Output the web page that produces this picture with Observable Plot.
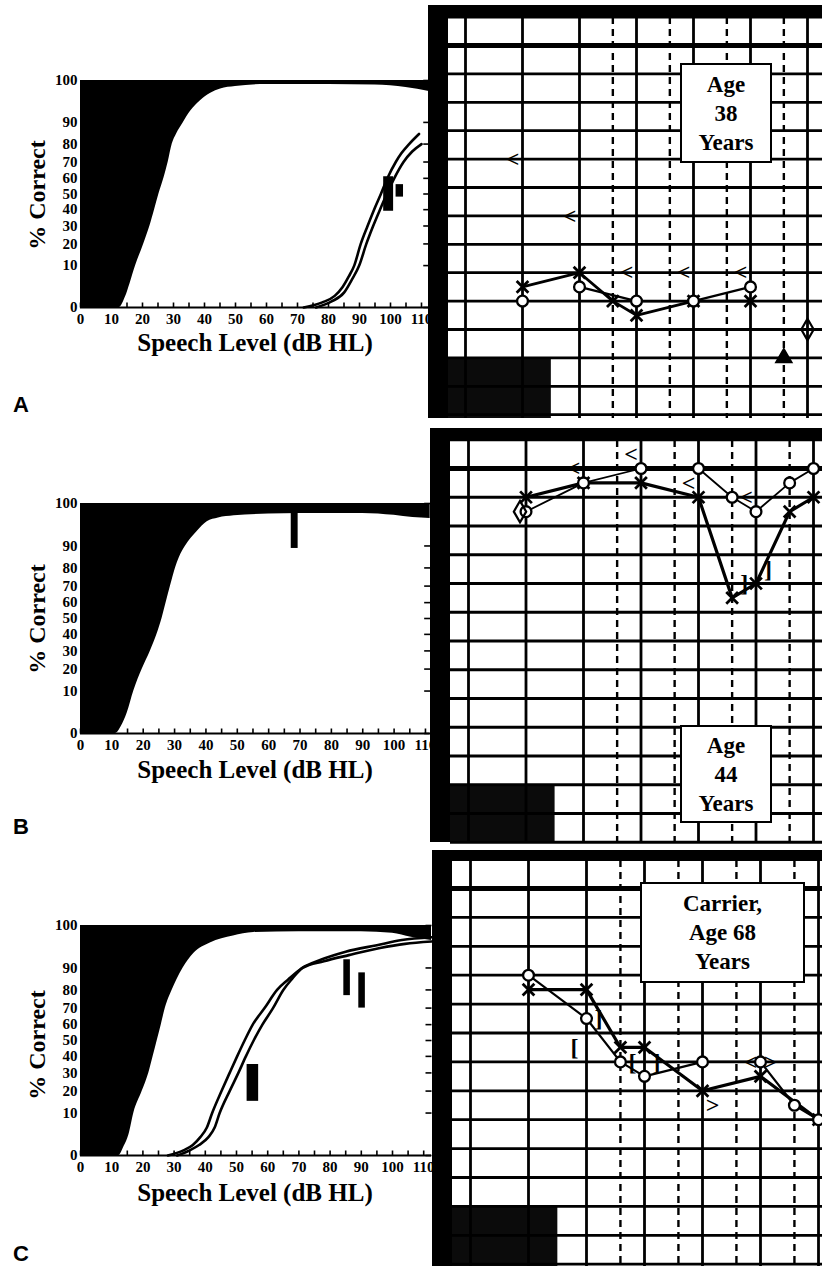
<!DOCTYPE html>
<html><head><meta charset="utf-8">
<script src="https://cdn.jsdelivr.net/npm/d3@7"></script>
<script src="https://cdn.jsdelivr.net/npm/@observablehq/plot@0.6"></script>
<style>
body{margin:0;background:#fff;}
#fig{position:relative;width:822px;height:1268px;overflow:hidden;background:#fff;font-family:"Liberation Serif","Times New Roman",serif;color:#000;}
.ctr{transform:translate(-50%,-50%);white-space:nowrap;font-weight:bold;}
.ylab{font-size:24px;transform:translate(-50%,-50%) rotate(-90deg);white-space:nowrap;font-weight:bold;}
.xlab{font-size:25px;}
.letter{font-family:"Liberation Sans",Arial,sans-serif;font-weight:bold;font-size:22px;line-height:1;}
.agbox{box-sizing:border-box;border-left:20px solid #000;border-top:12px solid #000;background:#fff;}
.agebox{box-sizing:border-box;border:2px solid #000;background:#fff;display:flex;flex-direction:column;justify-content:center;align-items:center;font-weight:bold;font-size:23px;line-height:29px;}
</style></head><body><div id="fig"></div>
<script>
// ================= DATA =================
// Performance-intensity (left) panels
const levelTicks = [0, 10, 20, 30, 40, 50, 60, 70, 80, 90, 100, 110];
const levelMinorTicks = [0, 5, 10, 15, 20, 25, 30, 35, 40, 45, 50, 55, 60, 65, 70, 75, 80, 85, 90, 95, 100, 105, 110];
const pctTicks = [0, 10, 20, 30, 40, 50, 60, 70, 80, 90, 100];

// lower edge of the normal-hearing range [dB HL, % correct]
const normalA = [[0,0],[12.5,0],[14.5,1],[16,4],[17.8,10],[20.4,20],[22.4,30],[23.9,40],[25.3,50],[26.9,60],[28.3,70],[29.6,80],[31,85],[33.2,90],[35.5,94],[38.7,97],[42,98.6],[45.2,99.3],[50,99.6],[60,99.8],[80,99.8],[95,99.75],[105,99.5],[112.5,98.9]];
const normalB = [[0,0],[11.2,0],[13,0.5],[14.9,3],[17,10],[19.7,20],[22.3,30],[24.4,40],[26,50],[27.3,60],[28.7,70],[30.3,80],[31.5,85],[33.5,90],[37.2,95],[40.4,97.5],[44,98.3],[49,98.7],[60,99],[70,99.1],[80,99.1],[90,99.1],[100,98.8],[106,98.4],[111.5,98.2]];
const normalC = [[0,0],[12.3,0],[14,0.8],[15.5,3],[17.1,10],[19.8,20],[21.9,30],[23.3,40],[24.6,50],[25.9,60],[27.2,70],[29.4,80],[30.9,85],[32.9,90],[36.3,95],[41.6,97.7],[49,99],[55.5,99.5],[70,99.6],[90,99.6],[100,99.4],[106,98.8],[112.5,98.2]];

// patient PI functions (two ears)
const curveA1 = [[72,0],[78,0.3],[82,1.2],[84.5,3],[86.5,6],[88.3,10],[90.4,20],[92.6,30],[94.7,40],[96.9,50],[99,60],[101.7,70],[103.5,75],[106,80],[109.2,85]];
const curveA2 = [[76,0],[81,0.4],[85,1.8],[87.5,5],[89.9,10],[92.2,20],[94.4,30],[96.6,40],[98.8,50],[101.2,60],[104.2,70],[107,76],[110,80]];
const curveC1 = [[28,0],[33,0.3],[36,1],[38.4,2.5],[40.5,5],[42.2,10],[45.2,20],[47.8,30],[50.2,40],[52.6,50],[55.2,60],[59,70],[63,80],[66.5,85],[71,90],[77,93],[85,95.5],[95,97.2],[103,98.3],[112.5,98.8]];
const curveC2 = [[31,0],[35,0.3],[38,1],[41,2.5],[43,5],[44.6,10],[47.8,20],[50.6,30],[53,40],[55.5,50],[58.3,60],[61.7,70],[65,80],[67.6,85],[71.2,90],[78,92.5],[86,94.5],[96,96.5],[104,97.5],[112.5,98]];

// measured scores (level range in dB HL, score range in %)
const scoresA = [{lev1:97.8, lev2:101, lo:39, hi:61}, {lev1:101.8, lev2:104.2, lo:48, hi:56}];
const scoresB = [{lev1:67.2, lev2:69.4, lo:89, hi:100}];
const scoresC = [{lev1:53.4, lev2:57.1, lo:15, hi:35}, {lev1:84.4, lev2:86.5, lo:77, hi:93}, {lev1:89.2, lev2:91.3, lo:70, hi:88}];

// Audiogram (right) panels
const freqOctaves = [125, 250, 500, 1000, 2000, 4000, 8000];
const freqHalf = [750, 1500, 3000, 6000];
const dbGrid = [-10, 0, 10, 20, 30, 40, 50, 60, 70, 80, 90, 100, 110, 120, 130];
const shadedZone = [{maxFreq: 355, minDb: 110}];

const aX = [{f:250,db:85},{f:500,db:80},{f:750,db:90},{f:1000,db:95},{f:2000,db:90},{f:4000,db:90}];
const aO = [{f:250,db:90},{f:500,db:85},{f:1000,db:90},{f:2000,db:90},{f:4000,db:85}];
const aBoneRight = [{f:250,db:40},{f:500,db:60},{f:1000,db:80},{f:2000,db:80},{f:4000,db:80}];
const aNoResponse = [{f:6000,db:110}];
const aDiamond = [{f:8000,db:100}];

const bX = [{f:250,db:10},{f:500,db:5},{f:1000,db:5},{f:2000,db:10},{f:3000,db:45},{f:4000,db:40},{f:6000,db:15},{f:8000,db:10}];
const bO = [{f:250,db:15},{f:500,db:5},{f:1000,db:0},{f:2000,db:0},{f:3000,db:10},{f:4000,db:15},{f:6000,db:5},{f:8000,db:0}];
const bBoneRight = [{f:500,db:0},{f:1000,db:-5},{f:2000,db:5},{f:4000,db:10}];
const bMaskedLeft = [{f:3000,db:40},{f:4000,db:35}];
const bDiamond = [{f:250,db:15}];

const cX = [{f:250,db:35},{f:500,db:35},{f:750,db:55},{f:1000,db:55},{f:2000,db:70},{f:4000,db:65},{f:8000,db:80}];
const cO = [{f:250,db:30},{f:500,db:45},{f:750,db:60},{f:1000,db:65},{f:2000,db:60},{f:4000,db:60},{f:6000,db:75},{f:8000,db:80}];
const cMaskedRight = [{f:500,db:55},{f:1000,db:60}];
const cMaskedLeft = [{f:500,db:45},{f:1000,db:60}];
const cBoneRight = [{f:4000,db:60}];
const cBoneLeft = [{f:2000,db:75},{f:4000,db:60}];

const ageLabels = {A: ["Age","38","Years"], B: ["Age","44","Years"], C: ["Carrier,","Age 68","Years"]};
const xTitle = "Speech Level (dB HL)";
const yTitle = "% Correct";

// ================= HELPERS =================
const fig = document.getElementById("fig");
// rationalized arcsine transform (50-item list) used by the % Correct axis
const NITEMS = 50;
const rau = p => { const x = p / 100 * NITEMS; return Math.asin(Math.sqrt(x / (NITEMS + 1))) + Math.asin(Math.sqrt(Math.min(1, (x + 1) / (NITEMS + 1)))); };
const tickUp = {draw(ctx) { ctx.moveTo(0, 0); ctx.lineTo(0, -5); }};
const tickLeft = {draw(ctx) { ctx.moveTo(0, 0); ctx.lineTo(-6, 0); }};

function place(el, left, top) { el.style.position = "absolute"; el.style.left = left + "px"; el.style.top = top + "px"; fig.appendChild(el); return el; }
function div(cls, html, left, top) { const d = document.createElement("div"); d.className = cls; d.innerHTML = html; return place(d, left, top); }

function speechPanel(cfg) {
  const W = 432, mt = 8, mb = 22;
  const mr = W - 80 - cfg.xMax * cfg.ppd;
  const lbl = {fontFamily: "Liberation Serif", fontWeight: "bold", fontSize: 15, fill: "black"};
  const chart = Plot.plot({
    width: W, height: mt + cfg.plotH + mb,
    marginLeft: 80, marginRight: mr, marginTop: mt, marginBottom: mb,
    style: {background: "transparent", overflow: "visible"},
    x: {domain: [0, cfg.xMax], axis: null},
    y: {domain: [rau(0), rau(100)], axis: null},
    marks: [
      Plot.areaY(cfg.normal, {x: d => d[0], y1: d => rau(d[1]), y2: () => rau(100), fill: "black", curve: "monotone-x"}),
      ...cfg.curves.map(c => Plot.line(c, {x: d => d[0], y: d => rau(d[1]), stroke: "black", strokeWidth: 2.6, curve: "monotone-x"})),
      Plot.rect(cfg.scores, {x1: "lev1", x2: "lev2", y1: d => rau(d.lo), y2: d => rau(d.hi), fill: "black"}),
      Plot.ruleY([rau(0)], {stroke: "black", strokeWidth: 2.2}),
      Plot.dot(levelMinorTicks, {x: d => d, y: () => rau(0), symbol: tickUp, fill: "none", stroke: "black", strokeWidth: 1.6}),
      Plot.dot(pctTicks, {x: () => cfg.xMax, y: d => rau(d), symbol: tickLeft, fill: "none", stroke: "black", strokeWidth: 1.6}),
      // tick labels
      Plot.text(levelTicks, {x: d => d, y: () => rau(0), text: d => String(d), dy: 12, ...lbl}),
      Plot.text(pctTicks, {x: () => 0, y: d => rau(d), text: d => String(d), dx: -3, textAnchor: "end", ...lbl})
    ]
  });
  place(chart, 0, cfg.y100 - mt);
  div("ylab", yTitle, 37, cfg.yLabY);
  div("ctr xlab", xTitle, 255, cfg.y0 + cfg.xLabDy);
}

function audiogram(cfg) {
  const box = document.createElement("div");
  box.className = "agbox";
  box.style.width = (822 - cfg.left) + "px";
  box.style.height = cfg.h + cfg.bt + "px";
  box.style.borderTopWidth = cfg.bt + "px";
  place(box, cfg.left, cfg.top);
  const w = 822 - cfg.left - 20;
  const fL = 125 * Math.pow(2, -cfg.x125 / cfg.oct);
  const fR = 125 * Math.pow(2, (w - cfg.x125) / cfg.oct);
  const dbT = -cfg.y0 / cfg.ppdb, dbB = (cfg.h - cfg.y0) / cfg.ppdb;
  const S = cfg.sym;
  const marks = [
    Plot.rect(shadedZone, {x1: () => fL, x2: "maxFreq", y1: "minDb", y2: () => dbB, fill: "#0b0b0b"}),
    Plot.ruleY(dbGrid, {stroke: "black", strokeWidth: 2.8}),
    Plot.ruleY([0], {stroke: "black", strokeWidth: 4.8}),
    Plot.ruleX(freqOctaves, {stroke: "black", strokeWidth: 2.8}),
    Plot.ruleX(freqHalf, {stroke: "black", strokeWidth: 2.4, strokeDasharray: "7,5"}),
  ];
  if (S.oLine) marks.push(Plot.line(S.oLine, {x: "f", y: "db", stroke: "black", strokeWidth: S.oW}));
  marks.push(Plot.line(S.x, {x: "f", y: "db", stroke: "black", strokeWidth: S.xW}));
  marks.push(Plot.dot(S.x, {x: "f", y: "db", symbol: "times", r: 5.4, stroke: "black", strokeWidth: 2.8}));
  marks.push(Plot.dot(S.o, {x: "f", y: "db", symbol: "circle", r: 5.4, fill: "white", stroke: "black", strokeWidth: 2.3}));
  const txt = (data, t, dx) => Plot.text(data, {x: "f", y: "db", text: () => t, dx, fontSize: 24, fontFamily: "Liberation Serif", fontWeight: "bold", fill: "black"});
  if (S.lt) marks.push(txt(S.lt, "<", -10));
  if (S.gt) marks.push(txt(S.gt, ">", 10));
  if (S.lb) marks.push(txt(S.lb, "[", -12));
  if (S.rb) marks.push(txt(S.rb, "]", 12));
  if (S.diamond) marks.push(Plot.dot(S.diamond, {x: "f", y: "db", symbol: "diamond", r: 6.5, fill: "none", stroke: "black", strokeWidth: 2.2, dx: S.diamondDx || 0}));
  if (S.tri) marks.push(Plot.dot(S.tri, {x: "f", y: "db", symbol: "triangle", r: 6, fill: "black", stroke: "black"}));
  const chart = Plot.plot({
    width: w, height: cfg.h, margin: 0,
    style: {background: "transparent", overflow: "visible"},
    x: {type: "log", domain: [fL, fR], axis: null},
    y: {domain: [dbT, dbB], reverse: true, axis: null},
    marks
  });
  place(chart, cfg.left + 20, cfg.top + cfg.bt);
}

function ageBox(lines, left, top, w, h) {
  const d = div("agebox", lines.map(s => `<div>${s}</div>`).join(""), left, top);
  d.style.width = w + "px"; d.style.height = h + "px";
}

// ================= PANELS =================
speechPanel({normal: normalA, curves: [curveA1, curveA2], scores: scoresA, xMax: 112.5, ppd: 3.1, y100: 80, y0: 307, plotH: 227, yLabY: 195, xLabDy: 36});
speechPanel({normal: normalB, curves: [], scores: scoresB, xMax: 111.5, ppd: 3.136, y100: 503, y0: 733, plotH: 230, yLabY: 619, xLabDy: 37});
speechPanel({normal: normalC, curves: [curveC1, curveC2], scores: scoresC, xMax: 112.5, ppd: 3.12, y100: 925, y0: 1155, plotH: 230, yLabY: 1045, xLabDy: 38});

audiogram({left: 428, top: 5, bt: 12, h: 401, x125: 17, oct: 57, y0: 28, ppdb: 2.84,
  sym: {x: aX, o: aO, oLine: aO.slice(1), xW: 2.8, oW: 2.4, lt: aBoneRight, tri: aNoResponse, diamond: aDiamond}});
audiogram({left: 430, top: 428, bt: 12, h: 402, x125: 18, oct: 57.5, y0: 28, ppdb: 2.875,
  sym: {x: bX, o: bO, oLine: bO, xW: 3.2, oW: 1.8, lt: bBoneRight, rb: bMaskedLeft, diamond: bDiamond, diamondDx: -6}});
audiogram({left: 432, top: 850, bt: 10, h: 406, x125: 18, oct: 58, y0: 28, ppdb: 2.89,
  sym: {x: cX, o: cO, oLine: cO, xW: 3.2, oW: 2.2, lt: cBoneRight, gt: cBoneLeft, lb: cMaskedRight, rb: cMaskedLeft}});

ageBox(ageLabels.A, 680, 63, 92, 100);
ageBox(ageLabels.B, 680, 725, 92, 98);
ageBox(ageLabels.C, 640, 882, 165, 101);

div("letter", "A", 13, 394);
div("letter", "B", 13, 816);
div("letter", "C", 13, 1243);
</script>
</body></html>
